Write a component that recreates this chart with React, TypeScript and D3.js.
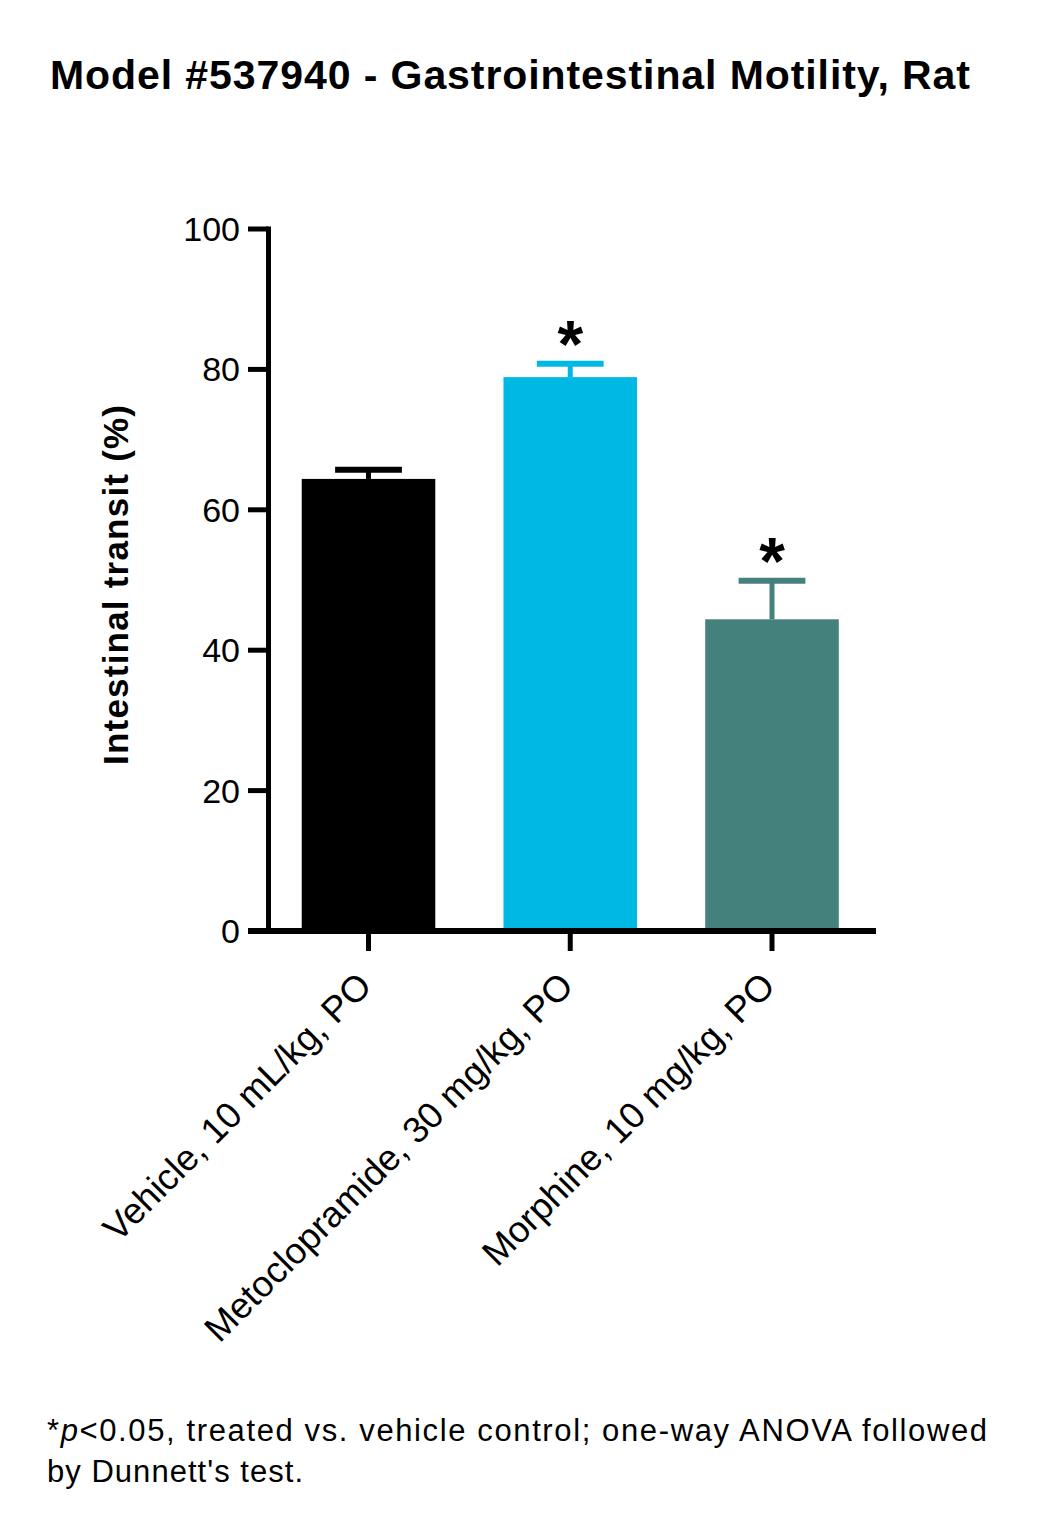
import React from "react";
import * as d3 from "d3";

const categories = ["Vehicle, 10 mL/kg, PO", "Metoclopramide, 30 mg/kg, PO", "Morphine, 10 mg/kg, PO"];
const means = [64.4, 78.9, 44.4];
const sems = [1.3, 1.9, 5.5];
const significant = [false, true, true];
const colors = ["#000000", "#00b8e4", "#44807c"];
const yTicks = [0, 20, 40, 60, 80, 100];

const FONT = "'Liberation Sans', Arial, Helvetica, sans-serif";

export default function App() {
  const W = 1050, H = 1540;
  const x0 = 268.5, yTop = 229, yBot = 931;
  const y = d3.scaleLinear().domain([0, 100]).range([yBot, yTop]);
  const x = d3.scalePoint().domain(categories).range([368.5, 772]);
  const bw = x.step() * 0.662;
  const capW = bw * 0.5;

  return (
    <svg width={W} height={H} style={{ position: "absolute", left: 0, top: 0, background: "#fff" }} fontFamily={FONT}>
      <text x={50} y={89} fontSize={41} fontWeight="bold" textLength={920} lengthAdjust="spacing">Model #537940 - Gastrointestinal Motility, Rat</text>

      {categories.map((c, i) => {
        const cx = x(c) as number;
        const top = y(means[i] + sems[i]);
        return (
          <g key={c}>
            <rect x={cx - bw / 2} y={y(means[i])} width={bw} height={yBot - y(means[i])} fill={colors[i]} />
            <line x1={cx} x2={cx} y1={y(means[i])} y2={top} stroke={colors[i]} strokeWidth={5} />
            <line x1={cx - capW / 2} x2={cx + capW / 2} y1={top} y2={top} stroke={colors[i]} strokeWidth={6} />
            {significant[i] && (
              <text x={cx} y={top + 3} textAnchor="middle" fontSize={66} fontWeight="bold">*</text>
            )}
            <line x1={cx} x2={cx} y1={yBot} y2={yBot + 20} stroke="#000" strokeWidth={5} />
            <text
              transform={`translate(${cx + 5},${yBot + 57}) rotate(-45)`}
              textAnchor="end"
              fontSize={36.5}
            >{c}</text>
          </g>
        );
      })}

      {/* y axis */}
      <line x1={x0} x2={x0} y1={yTop - 2.5} y2={yBot + 3} stroke="#000" strokeWidth={5} />
      {yTicks.map((t) => (
        <g key={t}>
          <line x1={248} x2={x0} y1={y(t)} y2={y(t)} stroke="#000" strokeWidth={5} />
          <text x={240} y={y(t)} dy="0.35em" textAnchor="end" fontSize={34}>{t}</text>
        </g>
      ))}
      {/* x axis */}
      <line x1={248} x2={876} y1={yBot} y2={yBot} stroke="#000" strokeWidth={6} />

      <text transform={`translate(128,585) rotate(-90)`} textAnchor="middle" fontSize={35} fontWeight="bold" textLength={360} lengthAdjust="spacing">Intestinal transit (%)</text>

      <text x={47} y={1441} fontSize={31} textLength={940} lengthAdjust="spacing">*<tspan fontStyle="italic">p</tspan>&lt;0.05, treated vs. vehicle control; one-way ANOVA followed</text>
      <text x={47} y={1482} fontSize={31} textLength={256} lengthAdjust="spacing">by Dunnett's test.</text>
    </svg>
  );
}
